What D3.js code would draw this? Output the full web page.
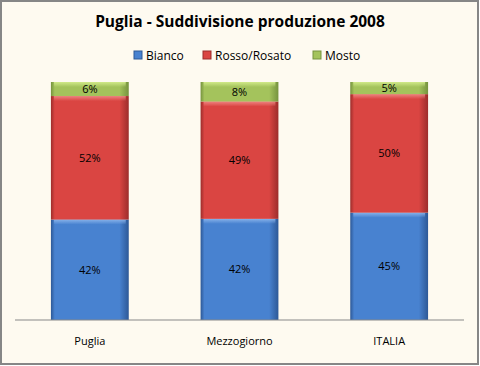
<!DOCTYPE html>
<html><head><meta charset="utf-8">
<script src="https://cdnjs.cloudflare.com/ajax/libs/d3/7.8.5/d3.min.js"></script>
<style>html,body{margin:0;padding:0;background:#fff}svg{display:block}</style>
</head><body>
<script>
const categories = ["Puglia", "Mezzogiorno", "ITALIA"];
const seriesNames = ["Bianco", "Rosso/Rosato", "Mosto"];
const bianco = [42.2, 42.5, 45.1];
const rosso = [51.9, 49.3, 49.8];
const mosto = [5.9, 8.2, 5.1];
const labels = [["42%","52%","6%"],["42%","49%","8%"],["45%","50%","5%"]];

const W = 480, H = 366;
const svg = d3.select("body").append("svg").attr("width", W).attr("height", H);
const defs = svg.append("defs");
const colors = [
  {mid:"#4882D0", edge:"#2D5896", light:"#8DB6EC"},
  {mid:"#DA4542", edge:"#9C2D2B", light:"#F08A87"},
  {mid:"#A4C35C", edge:"#76933E", light:"#D6EE8E"}
];
colors.forEach((c,i)=>{
  const g = defs.append("linearGradient").attr("id","g"+i).attr("x1","0").attr("x2","1").attr("y1","0").attr("y2","0");
  g.append("stop").attr("offset","0").attr("stop-color",c.edge);
  g.append("stop").attr("offset","0.05").attr("stop-color",c.mid);
  g.append("stop").attr("offset","0.88").attr("stop-color",c.mid);
  g.append("stop").attr("offset","1").attr("stop-color",c.edge);
  const v = defs.append("linearGradient").attr("id","v"+i).attr("x1","0").attr("x2","0").attr("y1","0").attr("y2","1");
  v.append("stop").attr("offset","0").attr("stop-color",c.light).attr("stop-opacity",0.9);
  v.append("stop").attr("offset","1").attr("stop-color",c.light).attr("stop-opacity",0);
});

svg.append("rect").attr("x",1).attr("y",1).attr("width",W-3).attr("height",H-3)
  .attr("fill","#FEFAF0").attr("stroke","#868686").attr("stroke-width",2);

svg.append("text").attr("x",240).attr("y",27).attr("text-anchor","middle")
  .attr("font-family","'Open Sans', sans-serif").attr("font-weight","bold").attr("font-size",15.5)
  .attr("fill","#000").text("Puglia - Suddivisione produzione 2008");

const legX = [134, 203, 313];
const leg = svg.append("g").attr("font-family","'Open Sans', sans-serif").attr("font-size",12);
seriesNames.forEach((n,i)=>{
  leg.append("rect").attr("x",legX[i]).attr("y",51).attr("width",8).attr("height",8)
    .attr("fill",colors[i].mid).attr("stroke",colors[i].edge).attr("stroke-width",1);
  leg.append("text").attr("x",legX[i]+12).attr("y",60).attr("fill","#000").text(n);
});

const x = d3.scaleBand().domain(categories).range([15,464]).paddingInner(0.48).paddingOuter(0.24);
const y = d3.scaleLinear().domain([0,100]).range([320,82]);

const data = categories.map((c,i)=>({cat:c, Bianco:bianco[i], "Rosso/Rosato":rosso[i], Mosto:mosto[i]}));
const stack = d3.stack().keys(seriesNames)(data);

stack.forEach((layer,si)=>{
  const g = svg.append("g");
  layer.forEach((d,ci)=>{
    const x0 = x(categories[ci]), w = x.bandwidth();
    const y0 = y(d[1]), h = y(d[0]) - y(d[1]);
    g.append("rect").attr("x",x0).attr("y",y0).attr("width",w).attr("height",h).attr("fill","url(#g"+si+")");
    g.append("rect").attr("x",x0+3).attr("y",y0).attr("width",w-6).attr("height",Math.min(5,h/2)).attr("fill","url(#v"+si+")");
    g.append("text").attr("x",x0+w/2).attr("y",(y0+y(d[0]))/2+4).attr("text-anchor","middle")
      .attr("font-family","'Open Sans', sans-serif").attr("font-size",11).attr("fill","#000")
      .text(labels[ci][si]);
  });
});

const axis = svg.append("g").attr("transform","translate(0,320)")
  .call(d3.axisBottom(x).tickSize(0).tickPadding(17));
axis.select(".domain").attr("stroke","#888").attr("d","M15,0H464");
axis.selectAll("text").attr("font-family","'Open Sans', sans-serif").attr("font-size",11).attr("fill","#000");
</script>
</body></html>
